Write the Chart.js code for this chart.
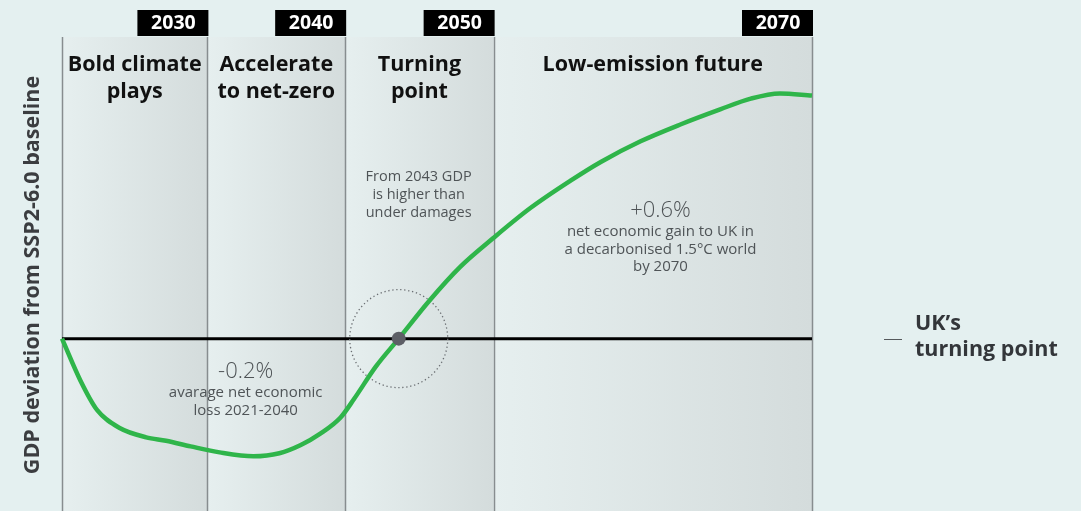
<!DOCTYPE html>
<html lang="en">
<head>
    <meta charset="UTF-8">
    <title>UK turning point</title>
    <style>
        html, body { margin: 0; padding: 0; background: #e4f0f0; }
        canvas { display: block; }
    </style>
</head>
<body>
    <canvas id="gdpChart" width="1081" height="511"></canvas>
    <script src="https://cdn.jsdelivr.net/npm/chart.js@4/dist/chart.umd.min.js"></script>
    <script>
        // values (years, % deviation from baseline)
        var years = [2021, 2022.2, 2023.3, 2024.8, 2026.5, 2027.8, 2029.4, 2031.3,
                     2033.5, 2035.2, 2036.6, 2037.9, 2039.2, 2040.1, 2041.5, 2043, 2045, 2047,
                     2049.2, 2051.6, 2054.2, 2056.2, 2058.8, 2061.4, 2064, 2066, 2067.9, 2070];
        var gdpDeviation = [0, -0.097, -0.166, -0.208, -0.229, -0.237, -0.25, -0.264,
                            -0.273, -0.266, -0.247, -0.22, -0.183, -0.139, -0.065, 0, 0.088, 0.166,
                            0.234, 0.303, 0.366, 0.41, 0.458, 0.497, 0.532, 0.557, 0.569, 0.564];
        var turningYear = 2043;
        var panelEnds = [2030.5, 2039.5, 2049.2, 2070];
        var panelLabels = ['2030', '2040', '2050', '2070'];
        var panelTitles = [['Bold climate', 'plays'], ['Accelerate', 'to net-zero'], ['Turning', 'point'], ['Low-emission future']];

        var font = '"Open Sans", "Noto Sans", sans-serif';

        function textLines(ctx, lines, x, y, gap) {
            lines.forEach(function (l, i) { ctx.fillText(l, x, y + i * gap); });
        }

        var decor = {
            id: 'decor',
            beforeDatasetsDraw: function (chart) {
                var ctx = chart.ctx, a = chart.chartArea;
                var xs = chart.scales.x, ys = chart.scales.y;
                var edges = [xs.min].concat(panelEnds);
                ctx.save();
                // shaded panels
                for (var i = 0; i < panelEnds.length; i++) {
                    var x0 = xs.getPixelForValue(edges[i]), x1 = xs.getPixelForValue(edges[i + 1]);
                    var g = ctx.createLinearGradient(x0, 0, x1, 0);
                    g.addColorStop(0, '#e6efef');
                    g.addColorStop(1, '#d4dcdc');
                    ctx.fillStyle = g;
                    ctx.fillRect(x0, a.top, x1 - x0, a.bottom - a.top);
                }
                // panel edges
                ctx.strokeStyle = '#878d8f';
                ctx.lineWidth = 1.5;
                edges.forEach(function (v) {
                    var x = Math.round(xs.getPixelForValue(v)) + 0.5;
                    ctx.beginPath();
                    ctx.moveTo(x, a.top);
                    ctx.lineTo(x, a.bottom);
                    ctx.stroke();
                });
                // year tags
                ctx.textAlign = 'center';
                ctx.textBaseline = 'middle';
                panelEnds.forEach(function (v, i) {
                    var x = xs.getPixelForValue(v);
                    ctx.fillStyle = '#000';
                    ctx.fillRect(x - 70, 10, 71, 26);
                    ctx.fillStyle = '#fff';
                    ctx.font = 'bold 19.5px ' + font;
                    ctx.fillText(panelLabels[i], x - 34, 23);
                });
                // panel titles
                ctx.fillStyle = '#111';
                ctx.font = 'bold 21.5px ' + font;
                panelTitles.forEach(function (t, i) {
                    var cx = (xs.getPixelForValue(edges[i]) + xs.getPixelForValue(edges[i + 1])) / 2;
                    textLines(ctx, t, cx, 65, 27);
                });
                // zero line
                var y0 = ys.getPixelForValue(0);
                ctx.strokeStyle = '#000';
                ctx.lineWidth = 3;
                ctx.beginPath();
                ctx.moveTo(a.left, y0);
                ctx.lineTo(a.right, y0);
                ctx.stroke();
                // dotted ring round the turning point
                ctx.strokeStyle = '#6a6e72';
                ctx.lineWidth = 1.3;
                ctx.setLineDash([1.3, 2.7]);
                ctx.beginPath();
                ctx.arc(xs.getPixelForValue(turningYear), y0, 49, 0, Math.PI * 2);
                ctx.stroke();
                ctx.setLineDash([]);
                // notes
                ctx.fillStyle = '#4f5457';
                ctx.font = '14.5px ' + font;
                textLines(ctx, ['From 2043 GDP', 'is higher than', 'under damages'], xs.getPixelForValue(2044.3), 177, 18);
                ctx.font = '300 22px ' + font;
                ctx.fillText('+0.6%', xs.getPixelForValue(2060.1), 211);
                ctx.fillText('-0.2%', xs.getPixelForValue(2033), 372);
                ctx.font = '15px ' + font;
                textLines(ctx, ['net economic gain to UK in', 'a decarbonised 1.5\u00B0C world', 'by 2070'], xs.getPixelForValue(2060.1), 232, 17.5);
                textLines(ctx, ['avarage net economic', 'loss 2021-2040'], xs.getPixelForValue(2033), 393, 18);
                ctx.restore();
            },
            afterDraw: function (chart) {
                var ctx = chart.ctx;
                ctx.save();
                // axis title
                ctx.translate(33, 275);
                ctx.rotate(-Math.PI / 2);
                ctx.fillStyle = '#3b3d40';
                ctx.font = 'bold 21.5px ' + font;
                ctx.textAlign = 'center';
                ctx.textBaseline = 'middle';
                ctx.fillText('GDP deviation from SSP2-6.0 baseline', 0, 0);
                ctx.restore();
                // legend
                ctx.save();
                ctx.strokeStyle = '#55595c';
                ctx.lineWidth = 1;
                ctx.beginPath();
                ctx.moveTo(884, 339.5);
                ctx.lineTo(902, 339.5);
                ctx.stroke();
                ctx.fillStyle = '#33363a';
                ctx.font = 'bold 21.5px ' + font;
                ctx.textBaseline = 'middle';
                ctx.fillText('UK\u2019s', 915, 324);
                ctx.fillText('turning point', 915, 350);
                ctx.restore();
            }
        };

        var points = years.map(function (y, i) { return { x: y, y: gdpDeviation[i] }; });

        new Chart(document.getElementById('gdpChart'), {
            type: 'line',
            data: {
                datasets: [
                    {
                        label: 'UK\u2019s turning point',
                        data: [{ x: turningYear, y: 0 }],
                        showLine: false,
                        pointRadius: 7,
                        pointBackgroundColor: '#5d5f66',
                        pointBorderWidth: 0,
                        order: 0
                    },
                    {
                        label: 'GDP deviation',
                        data: points,
                        borderColor: '#2fb54a',
                        borderWidth: 4.5,
                        pointRadius: 0,
                        cubicInterpolationMode: 'monotone',
                        fill: false,
                        clip: false,
                        order: 1
                    }
                ]
            },
            options: {
                responsive: false,
                animation: false,
                layout: { autoPadding: false, padding: { left: 62, right: 269, top: 37, bottom: 0 } },
                scales: {
                    x: { type: 'linear', min: 2021, max: 2070, display: false },
                    y: { min: -0.4, max: 0.7, display: false }
                },
                plugins: {
                    legend: { display: false },
                    tooltip: { enabled: false }
                }
            },
            plugins: [decor]
        });
    </script>
</body>
</html>
